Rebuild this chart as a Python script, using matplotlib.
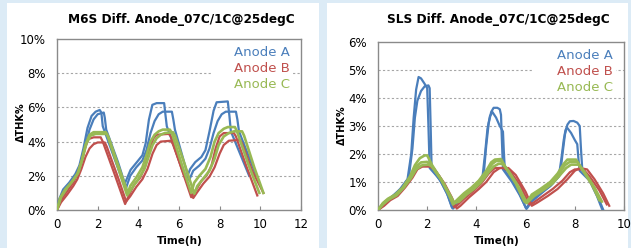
import matplotlib
matplotlib.use("Agg")
import matplotlib.pyplot as plt
from matplotlib.patches import Rectangle

# ---------------- data (time h, dTHK %) ----------------
titles = ["M6S Diff. Anode_07C/1C@25degC", "SLS Diff. Anode_07C/1C@25degC"]
labels = ["Anode A", "Anode B", "Anode C"]

# M6S chart
m6s_a1 = [(0,0),(0.1,0.6),(0.3,1.2),(0.6,1.6),(0.9,2.1),(1.1,2.6),(1.3,3.6),(1.5,4.8),(1.7,5.5),(1.9,5.75),(2.1,5.85),(2.18,5.7),(2.25,4.9),(2.8,3.1),(3.3,1.45),
          (3.62,2.35),(3.95,2.83),(4.2,3.2),(4.36,3.9),(4.52,5.28),(4.69,6.15),(4.9,6.25),(5.27,6.25),(5.33,5.6),(5.4,4.9),(6.35,1.8),
          (6.55,2.4),(6.8,2.8),(7.1,3.1),(7.3,3.5),(7.5,4.6),(7.7,5.8),(7.85,6.3),(8.4,6.35),(8.48,5.5),(8.55,4.6),(9.45,2.0)]
m6s_a2 = [(0,0),(0.15,0.7),(0.4,1.25),(0.7,1.7),(1.0,2.2),(1.2,2.8),(1.4,3.8),(1.6,4.7),(1.8,5.3),(2.0,5.6),(2.3,5.7),(2.35,5.4),(2.42,4.7),(3.0,2.8),(3.4,1.3),
          (3.6,2.0),(3.9,2.5),(4.2,2.9),(4.4,3.5),(4.6,4.5),(4.8,5.2),(5.0,5.6),(5.2,5.75),(5.65,5.75),(5.72,5.3),(5.8,4.7),(6.5,1.75),
          (6.7,2.3),(7.0,2.6),(7.3,3.0),(7.5,3.6),(7.7,4.5),(7.9,5.2),(8.1,5.6),(8.3,5.75),(8.8,5.75),(8.87,5.3),(8.95,4.6),(9.8,2.0)]
m6s_b1 = [(0,0),(0.2,0.6),(0.5,1.1),(0.8,1.6),(1.0,2.1),(1.2,2.8),(1.4,3.7),(1.55,4.15),(1.8,4.25),(2.15,4.25),(2.25,4.0),(2.8,2.2),(3.35,0.35),
          (3.55,0.9),(3.8,1.5),(4.1,1.9),(4.35,2.6),(4.55,3.6),(4.75,4.2),(4.9,4.4),(5.5,4.45),(5.6,4.3),(6.1,2.5),(6.6,0.75),
          (6.85,1.2),(7.1,1.7),(7.35,2.0),(7.6,2.6),(7.8,3.6),(8.0,4.3),(8.2,4.5),(8.7,4.5),(8.8,4.3),(9.3,2.6),(9.85,0.85)]
m6s_b2 = [(0,0),(0.2,0.45),(0.5,0.9),(0.8,1.4),(1.0,1.8),(1.2,2.4),(1.4,3.1),(1.6,3.6),(1.8,3.85),(2.0,3.95),(2.35,3.95),(2.45,3.7),(3.0,1.9),(3.4,0.5),
          (3.6,0.8),(3.9,1.35),(4.2,1.8),(4.45,2.4),(4.7,3.3),(4.9,3.8),(5.1,4.0),(5.6,4.05),(5.7,3.85),(6.2,2.2),(6.7,0.7),
          (6.9,1.05),(7.2,1.55),(7.5,1.95),(7.75,2.5),(8.0,3.3),(8.2,3.8),(8.45,4.05),(9.0,4.1),(9.1,3.9),(9.6,2.3),(10.15,1.0)]
m6s_c1 = [(0,0),(0.15,0.7),(0.4,1.2),(0.7,1.6),(1.0,2.1),(1.2,2.8),(1.4,3.8),(1.6,4.4),(1.8,4.55),(2.4,4.55),(2.5,4.3),(3.0,2.5),(3.45,0.85),
          (3.6,1.4),(3.9,1.9),(4.2,2.5),(4.4,3.2),(4.6,4.0),(4.8,4.4),(5.0,4.6),(5.2,4.7),(5.55,4.7),(5.65,4.5),(6.1,2.8),(6.6,1.0),
          (6.75,1.6),(7.0,2.0),(7.3,2.4),(7.55,3.1),(7.75,4.0),(7.95,4.5),(8.2,4.75),(8.4,4.85),(8.75,4.85),(8.85,4.6),(9.4,2.7),(9.95,1.0)]
m6s_c2 = [(0,0),(0.2,0.75),(0.5,1.3),(0.8,1.75),(1.05,2.2),(1.25,3.0),(1.45,3.9),(1.65,4.35),(1.9,4.45),(2.45,4.45),(2.55,4.2),(3.1,2.3),(3.5,0.95),
          (3.7,1.3),(4.0,1.8),(4.3,2.4),(4.5,3.1),(4.7,3.8),(4.9,4.2),(5.1,4.4),(5.3,4.5),(5.7,4.55),(5.8,4.35),(6.3,2.6),(6.75,0.95),
          (6.9,1.4),(7.2,1.85),(7.5,2.3),(7.75,3.0),(7.95,3.8),(8.2,4.3),(8.45,4.5),(8.7,4.6),(9.1,4.6),(9.2,4.35),(9.7,2.5),(10.15,1.0)]

# SLS chart
sls_a1 = [(0,0),(0.3,0.3),(0.6,0.5),(0.9,0.75),(1.2,1.1),(1.35,2.0),(1.45,3.3),(1.55,4.3),(1.65,4.75),(1.75,4.7),(1.9,4.5),(2.0,4.35),(2.05,3.0),(2.1,1.5),
          (2.5,1.1),(2.8,0.6),(3.0,0.1),(3.05,0.05),(3.2,0.25),(3.5,0.5),(3.8,0.75),(4.1,1.0),(4.25,1.2),(4.35,2.0),(4.45,2.9),(4.55,3.35),(4.65,3.5),(4.8,3.3),(4.95,3.0),(5.08,2.8),(5.12,2.0),(5.16,1.4),
          (5.5,1.0),(5.8,0.5),(6.02,0.05),(6.2,0.3),(6.6,0.6),(7.0,0.85),(7.35,1.2),(7.45,1.8),(7.55,2.5),(7.62,2.85),(7.68,2.95),(7.85,2.75),(8.0,2.5),(8.1,2.35),(8.15,1.8),(8.2,1.4),
          (8.6,1.05),(8.9,0.5),(9.1,0.05)]
sls_a2 = [(0,0),(0.3,0.28),(0.6,0.5),(0.9,0.72),(1.25,1.15),(1.4,2.2),(1.5,3.3),(1.6,3.9),(1.75,4.25),(1.9,4.42),(2.05,4.45),(2.1,4.35),(2.14,3.0),(2.18,1.5),
          (2.6,0.95),(2.85,0.5),(3.02,0.08),(3.1,0.1),(3.25,0.3),(3.55,0.55),(3.85,0.8),(4.15,1.05),(4.3,1.3),(4.4,2.3),(4.5,3.1),(4.6,3.5),(4.7,3.65),(4.85,3.65),(4.95,3.6),(5.0,3.4),(5.04,2.4),(5.08,1.45),
          (5.45,1.0),(5.75,0.55),(6.0,0.1),(6.05,0.05),(6.25,0.3),(6.65,0.6),(7.05,0.9),(7.4,1.25),(7.5,2.0),(7.6,2.7),(7.7,3.05),(7.8,3.17),(7.95,3.18),(8.1,3.12),(8.2,3.0),(8.25,2.2),(8.3,1.5),
          (8.65,1.0),(8.95,0.45),(9.15,0.02)]
sls_b1 = [(0,0),(0.2,0.15),(0.4,0.35),(0.7,0.5),(1.0,0.75),(1.3,1.1),(1.5,1.4),(1.7,1.55),(2.0,1.6),(2.2,1.55),(2.5,1.2),(2.8,0.75),(3.1,0.1),
          (3.2,0.15),(3.5,0.4),(3.9,0.7),(4.2,0.95),(4.5,1.3),(4.75,1.5),(5.1,1.5),(5.4,1.35),(5.8,0.85),(6.15,0.2),
          (6.3,0.25),(6.7,0.5),(7.1,0.75),(7.5,1.05),(7.8,1.35),(8.0,1.45),(8.35,1.45),(8.6,1.2),(9.0,0.7),(9.3,0.2)]
sls_b2 = [(0,0),(0.25,0.15),(0.5,0.35),(0.8,0.5),(1.1,0.8),(1.4,1.15),(1.6,1.45),(1.8,1.55),(2.1,1.55),(2.3,1.45),(2.7,0.95),(3.0,0.45),(3.2,0.05),
          (3.35,0.15),(3.7,0.45),(4.1,0.75),(4.4,1.0),(4.7,1.35),(4.95,1.5),(5.3,1.5),(5.6,1.25),(6.0,0.65),(6.25,0.15),
          (6.45,0.25),(6.9,0.5),(7.3,0.75),(7.7,1.1),(8.0,1.4),(8.2,1.5),(8.5,1.45),(8.8,1.1),(9.15,0.6),(9.4,0.15)]
sls_c1 = [(0,0),(0.2,0.25),(0.4,0.4),(0.7,0.55),(1.0,0.8),(1.3,1.2),(1.5,1.6),(1.7,1.85),(1.9,1.95),(2.0,1.95),(2.2,1.6),(2.6,1.05),(2.9,0.5),(3.05,0.2),
          (3.2,0.35),(3.5,0.6),(3.8,0.8),(4.1,1.05),(4.4,1.4),(4.6,1.7),(4.75,1.8),(5.0,1.82),(5.2,1.5),(5.6,0.95),(5.95,0.3),(6.05,0.25),
          (6.25,0.55),(6.6,0.75),(7.0,1.0),(7.3,1.3),(7.55,1.65),(7.7,1.8),(8.05,1.8),(8.3,1.45),(8.7,0.9),(9.0,0.35)]
sls_c2 = [(0,0),(0.2,0.22),(0.45,0.4),(0.75,0.55),(1.05,0.82),(1.35,1.2),(1.55,1.55),(1.75,1.7),(2.0,1.72),(2.15,1.6),(2.55,1.1),(2.9,0.55),(3.08,0.22),
          (3.25,0.35),(3.55,0.58),(3.85,0.8),(4.15,1.05),(4.45,1.4),(4.65,1.65),(4.8,1.75),(5.0,1.75),(5.25,1.45),(5.65,0.9),(6.0,0.28),
          (6.3,0.55),(6.65,0.72),(7.05,0.98),(7.35,1.3),(7.6,1.6),(7.8,1.72),(8.1,1.72),(8.35,1.4),(8.75,0.85),(9.05,0.35)]
sls_c3 = [(0,0),(0.2,0.2),(0.45,0.38),(0.75,0.52),(1.05,0.8),(1.35,1.15),(1.55,1.45),(1.8,1.6),(2.05,1.62),(2.2,1.55),(2.6,1.05),(2.95,0.5),(3.1,0.25),
          (3.3,0.3),(3.6,0.55),(3.9,0.75),(4.2,1.0),(4.5,1.35),(4.7,1.55),(4.9,1.65),(5.05,1.65),(5.3,1.4),(5.7,0.85),(6.05,0.25),
          (6.35,0.5),(6.7,0.7),(7.1,0.95),(7.4,1.25),(7.65,1.5),(7.85,1.62),(8.15,1.62),(8.4,1.35),(8.8,0.8),(9.1,0.3)]

m6s_series = [[m6s_a1, m6s_a2], [m6s_b1, m6s_b2], [m6s_c1, m6s_c2]]
sls_series = [[sls_a1, sls_a2], [sls_b1, sls_b2], [sls_c1, sls_c2, sls_c3]]

colors = ["#4a7ebb", "#c0504d", "#98b954"]

# ---------------- figure ----------------
W, H = 631, 248
fig = plt.figure(figsize=(W / 100, H / 100), dpi=100)
fig.patch.set_facecolor("#dcebf6")

def fx(px):
    return px / W

def fy(py):
    return 1 - py / H

# white panels (behind the axes)
for (l, r) in [(7, 319), (327, 628)]:
    fig.patches.append(Rectangle((fx(l), 0), fx(r) - fx(l), fy(3), transform=fig.transFigure,
                                 facecolor="white", edgecolor="none", zorder=-10))

panels = [
    dict(box=(57, 39, 301, 210), xmax=12, ymax=10, ystep=2, series=m6s_series,
         title_x=181, xlabel_x=180, ylabel_x=21, ylabel_y=122),
    dict(box=(378, 42, 624, 210), xmax=10, ymax=6, ystep=1, series=sls_series,
         title_x=498, xlabel_x=497, ylabel_x=342, ylabel_y=125),
]

for i, p in enumerate(panels):
    x0, y0, x1, y1 = p["box"]
    ax = fig.add_axes([fx(x0), fy(y1), fx(x1) - fx(x0), fy(y0) - fy(y1)])
    ax.set_facecolor("white")
    ax.set_xlim(0, p["xmax"])
    ax.set_ylim(0, p["ymax"])
    ax.set_xticks(range(0, p["xmax"] + 1, 2))
    yt = list(range(0, p["ymax"] + 1, p["ystep"]))
    ax.set_yticks(yt)
    ax.set_yticklabels([f"{v}%" for v in yt])
    for v in yt[1:-1]:
        ax.axhline(v, color="#a6a6a6", lw=0.8, ls=(0, (2, 2)), zorder=1)
    for s in ax.spines.values():
        s.set_color("#8a8a8a")
        s.set_linewidth(1.0)
    ax.tick_params(axis="x", direction="in", length=3, color="#8a8a8a", labelsize=8.5, pad=6)
    ax.tick_params(axis="y", length=0, labelsize=8.5, pad=8)

    handles = []
    for lines, c, lab in zip(p["series"], colors, labels):
        for j, line in enumerate(lines):
            t, v = zip(*line)
            lw = 1.6 if c != colors[2] else 1.9
            h, = ax.plot(t, v, color=c, lw=lw, solid_joinstyle="round", zorder=3)
            if j == 0:
                handles.append(h)

    leg = ax.legend(handles, labels, loc="upper right", bbox_to_anchor=(1.0, 1.025),
                    frameon=True, fontsize=9.5,
                    handlelength=1.4, handletextpad=0.1, labelspacing=0.22,
                    borderpad=0.25, borderaxespad=0.6, labelcolor=colors)
    leg.get_frame().set_facecolor("white")
    leg.get_frame().set_edgecolor("none")
    leg.get_frame().set_alpha(1)
    for h in leg.legend_handles:
        h.set_visible(False)
    leg.set_zorder(2)

    fig.text(fx(p["title_x"]), fy(20), titles[i], ha="center", va="center",
             fontsize=8.7, fontweight="bold")
    fig.text(fx(p["ylabel_x"]), fy(p["ylabel_y"]), "ΔTHK%", rotation=90, ha="center",
             va="center", fontsize=7, fontweight="bold")
    fig.text(fx(p["xlabel_x"]), fy(241), "Time(h)", ha="center", va="center",
             fontsize=7.5, fontweight="bold")

fig.savefig("out.png", dpi=100, facecolor=fig.get_facecolor())
